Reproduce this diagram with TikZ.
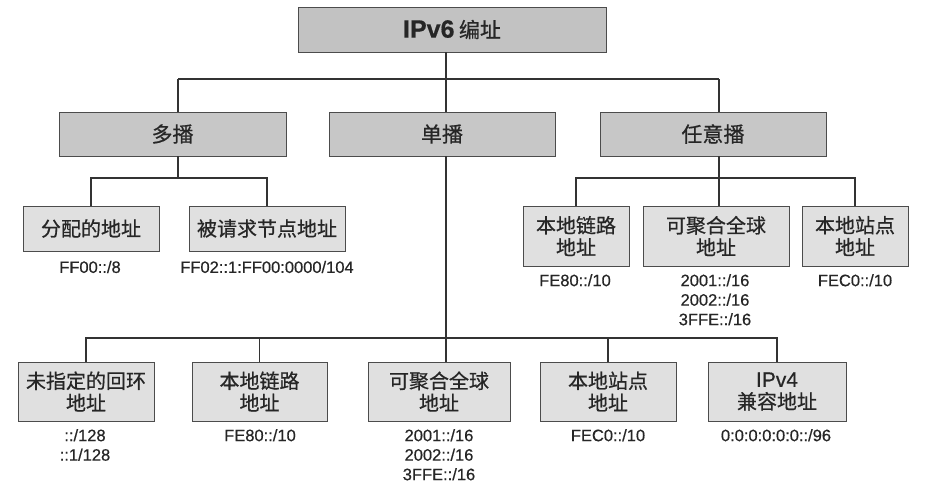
\documentclass[tikz,border=0pt]{standalone}
\usepackage{fontspec}
\setmainfont{Liberation Sans}
\newfontfamily\cjk{Noto Sans CJK SC}[FakeBold=0.6]
\newfontfamily\addrfont{Liberation Sans}[FakeBold=0.5]
\begin{document}
\begin{tikzpicture}[x=1pt,y=-1pt,
  boxbase/.style={draw=black!70, line width=0.8pt, inner sep=0pt, align=center,
     font=\cjk\fontsize{20}{22}\selectfont, text=black!85},
  topbox/.style={boxbase, fill=black!24},
  midbox/.style={boxbase, fill=black!22, minimum height=44pt, minimum width=226pt,
     font=\cjk\fontsize{21}{22}\selectfont},
  leafbox/.style={boxbase, fill=black!12},
  addr/.style={inner sep=0pt, align=center, font=\addrfont\fontsize{16.5}{19.5}\selectfont, text=black!85},
  conn/.style={draw=black!80, line width=1.6pt}]
\useasboundingbox[fill=white] (0,0) rectangle (929,493);

% top
\node[topbox, minimum width=308pt, minimum height=45pt] (top) at (452,29.5)
  {{\addrfont\bfseries\fontsize{25}{26}\selectfont IPv6} {\cjk\fontsize{21}{24}\selectfont 编址}};

% level 1
\node[midbox, minimum width=227pt] (mc) at (172.5,134) {多播};
\node[midbox] (uc) at (442,134) {单播};
\node[midbox] (ac) at (713,134) {任意播};

% multicast children
\node[leafbox, minimum width=136pt, minimum height=45pt] (m1) at (91,228.5) {分配的地址};
\node[leafbox, minimum width=156pt, minimum height=45pt] (m2) at (267,228.5) {被请求节点地址};
\node[addr] (lm1) at (90,267) {FF00::/8};
\node[addr] (lm2) at (267,267) {FF02::1:FF00:0000/104};

% anycast children
\node[leafbox, minimum width=106pt, minimum height=60pt] (a1) at (576,236) {本地链路\\地址};
\node[leafbox, minimum width=146pt, minimum height=60pt] (a2) at (716,236) {可聚合全球\\地址};
\node[leafbox, minimum width=106pt, minimum height=60pt] (a3) at (855,236) {本地站点\\地址};
\node[addr, anchor=north] (la1) at (575,274) {FE80::/10};
\node[addr, anchor=north] (la2) at (715,274) {2001::/16\\2002::/16\\3FFE::/16};
\node[addr, anchor=north] (la3) at (855,274) {FEC0::/10};

% unicast children
\node[leafbox, minimum width=136pt, minimum height=59pt] (u1) at (86,391.5) {未指定的回环\\地址};
\node[leafbox, minimum width=135pt, minimum height=59pt] (u2) at (259.5,391.5) {本地链路\\地址};
\node[leafbox, minimum width=142pt, minimum height=59pt] (u3) at (439,391.5) {可聚合全球\\地址};
\node[leafbox, minimum width=136pt, minimum height=59pt] (u4) at (608,391.5) {本地站点\\地址};
\node[leafbox, minimum width=138pt, minimum height=59pt] (u5) at (777,391.5)
  {{\addrfont\fontsize{21}{22}\selectfont IPv4}\\兼容地址};
\node[addr, anchor=north] (lu1) at (85,429) {::/128\\::1/128};
\node[addr, anchor=north] (lu2) at (260,429) {FE80::/10};
\node[addr, anchor=north] (lu3) at (439,429) {2001::/16\\2002::/16\\3FFE::/16};
\node[addr, anchor=north] (lu4) at (608,429) {FEC0::/10};
\node[addr, anchor=north] (lu5) at (776,429) {0:0:0:0:0:0::/96};

% junction coordinates
\coordinate (xm) at (178,79);
\coordinate (xu) at (446,79);
\coordinate (xa) at (719,79);
\coordinate (bm) at (178,178);
\coordinate (ba) at (719,178);
\coordinate (bu) at (446,338);

% level 0 -> 1
\draw[conn] (top.south -| xu) -- (xu);
\draw[conn] (xm) -- (xa);
\draw[conn] (xm) -- (mc.north -| xm);
\draw[conn] (xa) -- (ac.north -| xa);
\draw[conn] (xu) -- (uc.north -| xu);

% multicast
\draw[conn] (mc.south -| bm) -- (bm);
\draw[conn] (m1.north) -- (m1.north |- bm) -- (m2.north |- bm) -- (m2.north);

% anycast
\draw[conn] (ac.south -| ba) -- (a2.north -| ba);
\draw[conn] (a1.north) -- (a1.north |- ba) -- (a3.north |- ba) -- (a3.north);

% unicast
\draw[conn] (uc.south -| bu) -- (u3.north -| bu);
\draw[conn] (u1.north) -- (u1.north |- bu) -- (u5.north |- bu) -- (u5.north);
\draw[conn] (u2.north |- bu) -- (u2.north);
\draw[conn] (u4.north |- bu) -- (u4.north);
\end{tikzpicture}
\end{document}
